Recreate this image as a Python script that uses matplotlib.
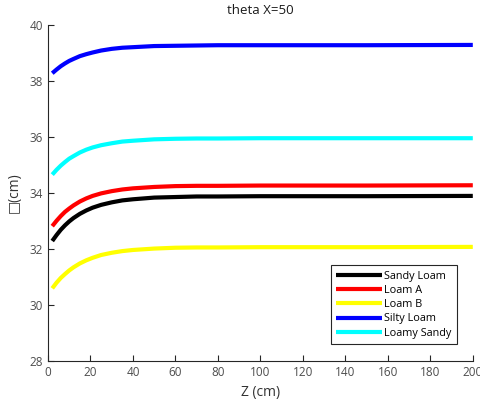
import matplotlib
matplotlib.use('Agg')
import matplotlib.pyplot as plt

# sample depths (cm) and the five soil curves
z = [2, 4, 6, 8, 10, 12, 15, 18, 21, 25, 30, 35, 40, 50, 60, 70, 80, 100, 150, 200]

sandy_loam = [32.29, 32.50, 32.69, 32.85, 32.99, 33.11, 33.26, 33.38, 33.48, 33.58,
              33.67, 33.74, 33.78, 33.84, 33.86, 33.88, 33.88, 33.89, 33.89, 33.90]
loam_a = [32.82, 33.01, 33.18, 33.33, 33.45, 33.56, 33.70, 33.81, 33.90, 33.99,
          34.07, 34.13, 34.17, 34.22, 34.25, 34.26, 34.26, 34.27, 34.27, 34.28]
loam_b = [30.60, 30.80, 30.97, 31.11, 31.24, 31.35, 31.49, 31.60, 31.69, 31.79,
          31.87, 31.93, 31.97, 32.02, 32.05, 32.06, 32.06, 32.07, 32.07, 32.08]
silty_loam = [38.28, 38.41, 38.53, 38.63, 38.72, 38.79, 38.89, 38.96, 39.02, 39.09,
              39.15, 39.19, 39.21, 39.25, 39.26, 39.27, 39.28, 39.28, 39.28, 39.29]
loamy_sandy = [34.66, 34.83, 34.98, 35.11, 35.23, 35.32, 35.45, 35.55, 35.63, 35.71,
               35.78, 35.84, 35.87, 35.92, 35.94, 35.95, 35.95, 35.96, 35.96, 35.96]

labels = ['Sandy Loam', 'Loam A', 'Loam B', 'Silty Loam', 'Loamy Sandy']
colors = ['black', 'red', 'yellow', 'blue', 'cyan']


def main():
    plt.rcParams['font.family'] = ['Open Sans', 'DejaVu Sans']
    fig = plt.figure(figsize=(4.8, 4.04), dpi=100)
    ax = fig.add_axes([0.1, 0.106, 0.885, 0.832])

    series = [sandy_loam, loam_a, loam_b, silty_loam, loamy_sandy]
    for vals, lab, col in zip(series, labels, colors):
        ax.plot(z, vals, color=col, linewidth=3.0, label=lab,
                solid_capstyle='butt', solid_joinstyle='round')

    ax.set_xlim(0, 200)
    ax.set_ylim(28, 40)
    ax.set_xticks(range(0, 201, 20))
    ax.set_yticks(range(28, 41, 2))

    for side in ['top', 'right']:
        ax.spines[side].set_visible(False)
    for side in ['left', 'bottom']:
        ax.spines[side].set_color('#262626')
        ax.spines[side].set_linewidth(0.8)
    ax.tick_params(direction='in', length=4, width=0.8, colors='#262626',
                   labelcolor='#4d4d4d', labelsize=8.5)

    ax.set_title('theta X=50', fontsize=9.5, color='#1a1a1a', pad=8)
    ax.set_xlabel('Z (cm)', fontsize=10, color='#333333', labelpad=4)
    ax.set_ylabel('\u25a1(cm)', fontsize=10, color='#333333', labelpad=6)

    leg = ax.legend(loc='lower right', bbox_to_anchor=(0.975, 0.035),
                    fontsize=7.8, fancybox=False, framealpha=1,
                    edgecolor='#262626', handlelength=4.2, handletextpad=0.2,
                    labelspacing=0.3, borderpad=0.5)
    leg.get_frame().set_linewidth(0.8)

    fig.savefig('out.png', dpi=100)


if __name__ == '__main__':
    main()
